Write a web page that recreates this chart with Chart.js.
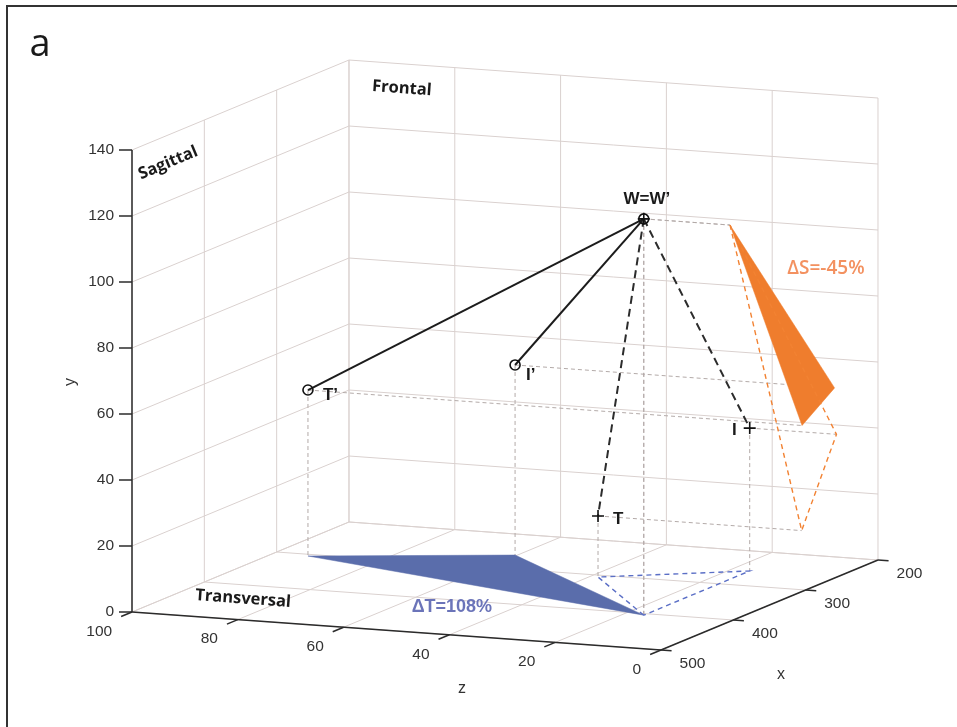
<!DOCTYPE html>
<html>
<head>
<meta charset="utf-8">
<script src="https://cdn.jsdelivr.net/npm/chart.js@4.4.0/dist/chart.umd.min.js"></script>
<style>
  html, body { margin: 0; padding: 0; background: #fff; }
  #wrap { width: 957px; height: 727px; }
</style>
</head>
<body>
<div id="wrap"><canvas id="chart" width="957" height="727"></canvas></div>
<script>
// axis ticks
const xTicks = [200, 300, 400, 500];
const yTicks = [0, 20, 40, 60, 80, 100, 120, 140];
const zTicks = [0, 20, 40, 60, 80, 100];

// landmarks before (W, T, I)
const origNames = ["W", "T", "I"];
const origX = [404.6, 305.5, 257.4];
const origY = [120.1, 18.5, 43.3];
const origZ = [16.3, 38.5, 16.4];

// landmarks after (W', T', I')
const primeNames = ["W=W\u2019", "T\u2019", "I\u2019"];
const primeX = [404.6, 305, 260];
const primeY = [120.1, 50.3, 57.6];
const primeZ = [16.3, 93.4, 60.4];

// area changes in %
const deltaS = -45;
const deltaT = 108;

const xMin = Math.min(...xTicks), xMax = Math.max(...xTicks);
const yMin = Math.min(...yTicks), yMax = Math.max(...yTicks);
const zMin = Math.min(...zTicks), zMax = Math.max(...zTicks);

// fixed orthographic view, measured from the corner (x=500, y=0, z=0)
const view = { ox: 661, oy: 650, xu: -0.7233, xv: 0.3, zu: -5.29, zv: -0.38, yv: -3.3 };
function project(x, y, z) {
  return {
    x: view.ox + view.xu * (x - xMax) + view.zu * z,
    y: view.oy + view.xv * (x - xMax) + view.zv * z + view.yv * y
  };
}

const datasets = [];
function addLine(pts, style) {
  datasets.push(Object.assign({
    data: pts.map(p => project(p[0], p[1], p[2])),
    showLine: true, pointRadius: 0, pointHoverRadius: 0, fill: false, borderWidth: 1, tension: 0
  }, style));
}
function addRaw(pts, style) {
  datasets.push(Object.assign({
    data: pts, showLine: true, pointRadius: 0, pointHoverRadius: 0, fill: false, borderWidth: 1, tension: 0
  }, style));
}

// grid on the floor and the two back walls
const gridStyle = { borderColor: "#dad1cf", borderWidth: 1, order: 30 };
xTicks.forEach(x => {
  addLine([[x, yMin, zMin], [x, yMin, zMax]], gridStyle);
  addLine([[x, yMin, zMax], [x, yMax, zMax]], gridStyle);
});
zTicks.forEach(z => {
  addLine([[xMin, yMin, z], [xMax, yMin, z]], gridStyle);
  addLine([[xMin, yMin, z], [xMin, yMax, z]], gridStyle);
});
yTicks.forEach(y => {
  addLine([[xMin, y, zMin], [xMin, y, zMax]], gridStyle);
  addLine([[xMin, y, zMax], [xMax, y, zMax]], gridStyle);
});

// axes and ticks
const axisStyle = { borderColor: "#2b2b2b", borderWidth: 1.5, order: 25 };
addLine([[xMax, yMin, zMax], [xMax, yMax, zMax]], axisStyle);
addLine([[xMax, yMin, zMax], [xMax, yMin, zMin]], axisStyle);
addLine([[xMax, yMin, zMin], [xMin, yMin, zMin]], axisStyle);
yTicks.forEach(y => {
  const p = project(xMax, y, zMax);
  addRaw([p, { x: p.x - 13, y: p.y }], axisStyle);
});
zTicks.forEach(z => addLine([[xMax, yMin, z], [xMax + 15, yMin, z]], axisStyle));
xTicks.forEach(x => addLine([[x, yMin, zMin], [x, yMin, zMin - 2]], axisStyle));

// projection helper lines
const helpStyle = { borderColor: "#b3aaa8", borderWidth: 1, borderDash: [4, 3], order: 20 };
function helpers(xs, ys, zs) {
  xs.forEach((x, i) => {
    addLine([[x, ys[i], zs[i]], [x, yMin, zs[i]]], helpStyle);
    addLine([[x, ys[i], zs[i]], [x, ys[i], zMin]], helpStyle);
  });
}
helpers(origX, origY, origZ);
helpers(primeX, primeY, primeZ);

// projected triangles
const floorPrime = primeX.map((x, i) => [x, yMin, primeZ[i]]);
const floorOrig = origX.map((x, i) => [x, yMin, origZ[i]]);
const sagPrime = primeX.map((x, i) => [x, primeY[i], zMin]);
const sagOrig = origX.map((x, i) => [x, origY[i], zMin]);
addLine([...floorPrime, floorPrime[0]], { fill: "shape", backgroundColor: "#5a6dab", borderColor: "#5a6dab", borderWidth: 0.5, order: 18 });
addLine([...sagPrime, sagPrime[0]], { fill: "shape", backgroundColor: "#ef7d2d", borderColor: "#ef7d2d", borderWidth: 0.5, order: 18 });
addLine([...floorOrig, floorOrig[0]], { borderColor: "#5b6fc6", borderWidth: 1.4, borderDash: [5, 4], order: 17 });
addLine([...sagOrig, sagOrig[0]], { borderColor: "#f28232", borderWidth: 1.4, borderDash: [5, 4], order: 17 });

// segments from W to the other landmarks
[1, 2].forEach(i => {
  addLine([[primeX[0], primeY[0], primeZ[0]], [primeX[i], primeY[i], primeZ[i]]], { borderColor: "#1c1c1c", borderWidth: 2, order: 10 });
  addLine([[origX[0], origY[0], origZ[0]], [origX[i], origY[i], origZ[i]]], { borderColor: "#2c2c2c", borderWidth: 2, borderDash: [8, 5], order: 10 });
});

// markers
datasets.push({
  data: primeX.map((x, i) => project(x, primeY[i], primeZ[i])),
  showLine: false, pointStyle: "circle", pointRadius: 5, pointHoverRadius: 5,
  pointBorderWidth: 1.6, pointBorderColor: "#111", pointBackgroundColor: "rgba(0,0,0,0)", order: 5
});
datasets.push({
  data: origX.map((x, i) => project(x, origY[i], origZ[i])),
  showLine: false, pointStyle: "cross", pointRadius: 6, pointHoverRadius: 6,
  pointBorderWidth: 1.6, pointBorderColor: "#111", order: 4
});

// label offsets from each marker (pixels)
const primeLabelOffsets = [[3, -20, "center"], [15, 5, "left"], [11, 10, "left"]];
const origLabelOffsets = [[0, 0, null], [15, 3, "left"], [-13, 2, "right"]];

const decor = {
  id: "decor",
  afterDraw(chart) {
    const ctx = chart.ctx;
    const sx = chart.scales.x, sy = chart.scales.y;
    const px = p => ({ x: sx.getPixelForValue(p.x), y: sy.getPixelForValue(p.y) });
    const at = (x, y, z) => px(project(x, y, z));
    function text(str, p, opts) {
      ctx.save();
      ctx.translate(p.x, p.y);
      if (opts.rot) ctx.rotate(opts.rot);
      ctx.font = opts.font;
      ctx.fillStyle = opts.color || "#333";
      ctx.textAlign = opts.align || "center";
      ctx.textBaseline = "middle";
      ctx.fillText(str, 0, 0);
      ctx.restore();
    }
    const tickFont = "15.5px 'Liberation Sans', Arial, sans-serif";
    yTicks.forEach(y => {
      const p = at(xMax, y, zMax);
      text(String(y), { x: p.x - 18, y: p.y }, { font: tickFont, align: "right" });
    });
    zTicks.forEach(z => {
      const p = at(xMax + 15, yMin, z);
      text(String(z), { x: p.x - 9, y: p.y + 15 }, { font: tickFont, align: "right" });
    });
    xTicks.forEach(x => {
      const p = at(x, yMin, zMin - 2);
      text(String(x), { x: p.x + 8, y: p.y + 12.5 }, { font: tickFont, align: "left" });
    });

    const labFont = "16px 'Liberation Sans', Arial, sans-serif";
    text("y", { x: 71, y: 382 }, { font: labFont, rot: -Math.PI / 2 });
    text("z", { x: 462, y: 689 }, { font: labFont });
    text("x", { x: 781, y: 675 }, { font: labFont });

    // plane names follow the wall directions
    const zAng = Math.atan2(-view.zv, -view.zu);
    const xAng = Math.atan2(-view.xv, -view.xu);
    const planeFont = "bold 16.5px 'Open Sans', sans-serif";
    text("Frontal", at(200, 132.5, 90), { font: planeFont, rot: zAng, color: "#1a1a1a" });
    text("Sagittal", at(450, 131.5, 100), { font: planeFont, rot: xAng, color: "#1a1a1a" });
    text("Transversal", at(440, 0, 87.2), { font: planeFont, rot: zAng, color: "#1a1a1a" });

    text("\u0394S=" + deltaS + "%", at(272, 94.7, 0), { font: "600 19px 'Open Sans', sans-serif", color: "#f39160" });
    text("\u0394T=" + deltaT + "%", at(420.5, 0, 50.4), { font: "bold 18px 'Liberation Sans', Arial, sans-serif", color: "#6b74b9" });

    const ptFont = "bold 17px 'Liberation Sans', Arial, sans-serif";
    primeNames.forEach((n, i) => {
      const p = at(primeX[i], primeY[i], primeZ[i]);
      const o = primeLabelOffsets[i];
      text(n, { x: p.x + o[0], y: p.y + o[1] }, { font: ptFont, align: o[2], color: "#1a1a1a" });
    });
    origNames.forEach((n, i) => {
      const o = origLabelOffsets[i];
      if (!o[2]) return;
      const p = at(origX[i], origY[i], origZ[i]);
      text(n, { x: p.x + o[0], y: p.y + o[1] }, { font: ptFont, align: o[2], color: "#1a1a1a" });
    });

    text("a", { x: 40, y: 45 }, { font: "38px 'Open Sans', sans-serif", color: "#1a1a1a" });

    ctx.save();
    ctx.fillStyle = "#333";
    ctx.fillRect(6, 5, chart.width - 6, 2);
    ctx.fillRect(6, 5, 2, chart.height - 5);
    ctx.restore();
  }
};

new Chart("chart", {
  type: "scatter",
  data: { datasets: datasets },
  options: {
    responsive: false,
    devicePixelRatio: 1,
    animation: false,
    events: [],
    layout: { padding: 0, autoPadding: false },
    plugins: { legend: { display: false }, tooltip: { enabled: false } },
    scales: {
      x: { type: "linear", display: false, min: 0, max: 957 },
      y: { type: "linear", display: false, min: 0, max: 727, reverse: true }
    }
  },
  plugins: [decor]
});
</script>
</body>
</html>
